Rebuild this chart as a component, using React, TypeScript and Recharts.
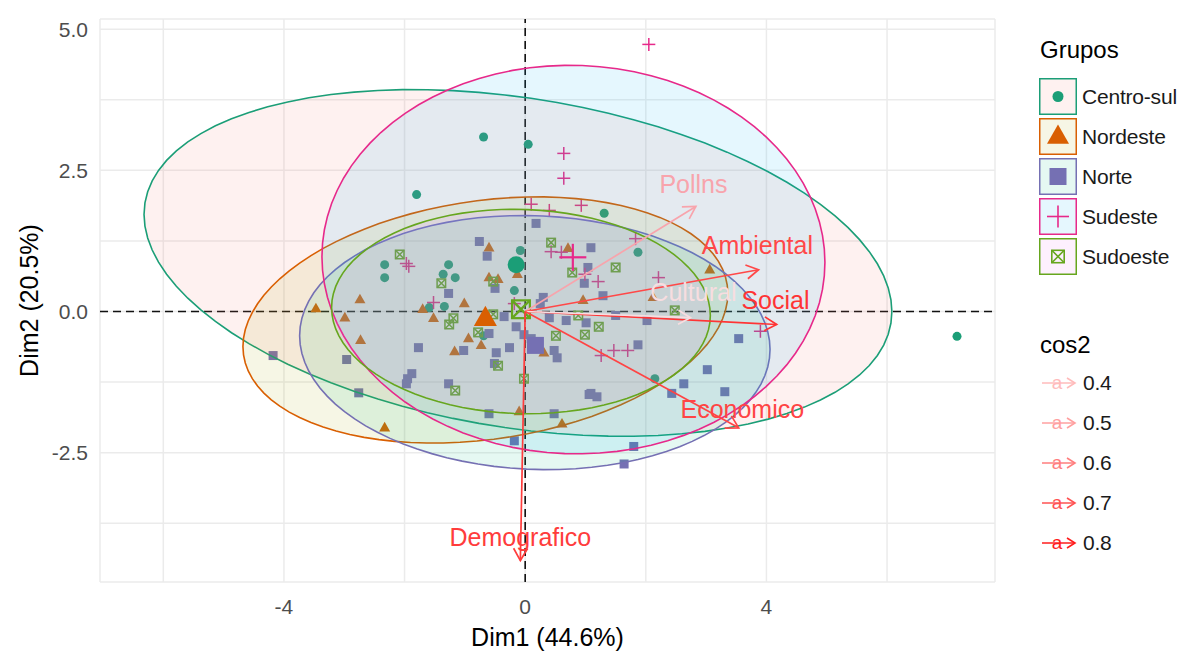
import React from 'react';
import { ScatterChart, Scatter, XAxis, YAxis, CartesianGrid, ReferenceLine, Legend } from 'recharts';

const FONT = '"Liberation Sans", Arial, Helvetica, sans-serif';

// ---------- groups ----------
const groupNames = ['Centro-sul', 'Nordeste', 'Norte', 'Sudeste', 'Sudoeste'];
const groupColors = ['#1B9E77', '#D95F02', '#7570B3', '#E7298A', '#66A61E'];
const ellipseFills = ['#F8766D', '#A3A500', '#00BF7D', '#00B0F6', '#E76BF3'];
const groupShapes = ['circle', 'triangle', 'square', 'plus', 'squarex'];

// ---------- individuals (Dim1, Dim2) ----------
const centroSulX = [-1.80, -2.33, -2.33, -1.27, -1.36, -1.16, -1.59, -1.34, -0.08, -0.18, -0.69, 1.31, 1.87, 2.15, -0.69, 0.05, 7.16];
const centroSulY = [2.07, 0.83, 0.60, 0.83, 0.66, 0.60, 0.07, 0.09, 1.08, 0.37, -0.43, 1.74, 1.05, -1.19, 3.09, 2.96, -0.44];

const nordesteX = [-0.60, -0.60, -0.45, -2.74, -3.47, -2.99, -1.70, -1.52, -1.01, -0.13, -0.94, -1.17, -0.73, -2.73, -0.10, -2.33, 0.71, 0.96, 2.12, 3.06, 0.31, 0.61];
const nordesteY = [1.13, 0.60, 0.57, 0.21, 0.05, -0.11, 0.04, -0.12, 0.14, 0.66, -0.48, -0.71, -0.60, -0.51, -1.77, -2.06, 1.12, 0.20, 0.25, 0.74, -0.73, -1.99];

const norteX = [-0.76, -0.63, 0.18, 1.09, 1.04, 0.98, 1.29, 0.30, 0.25, -0.50, -1.27, -0.35, -0.15, -0.02, 0.40, 0.68, 1.01, 0.48, 0.53, -0.60, -1.02, -0.26, -0.48, -0.51, -1.77, -2.96, -1.95, -1.88, -1.27, -2.76, -0.60, 0.48, 1.09, 1.87, 2.02, 1.50, 3.54, 3.02, 2.63, 3.31, 2.43, 1.80, 1.64, -0.18, -4.18, 0.10, -1.97, 1.19, 1.06];
const norteY = [1.24, 0.98, 1.56, 1.13, 0.78, 0.50, 0.28, 0.25, 0.14, 0.41, 0.32, -0.09, -0.27, -0.41, -0.11, -0.16, -0.20, -0.69, -0.82, -0.39, -0.69, -0.64, -0.73, -0.92, -0.64, -0.85, -1.19, -1.10, -1.28, -1.44, -1.81, -1.81, -1.45, -0.59, -0.16, -0.07, -0.48, -1.03, -1.28, -1.42, -1.45, -2.39, -2.70, -2.29, -0.78, -0.48, -1.28, -1.51, -1.47];

const sudesteX = [2.05, 0.64, 0.64, 0.10, 0.40, 0.93, 0.43, 0.60, 0.99, 1.21, 1.83, 2.21, -1.93, -1.97, -1.52, -0.18, 1.26, 1.47, 1.70, 3.90];
const sudesteY = [4.73, 2.80, 2.36, 1.90, 1.79, 1.88, 1.06, 1.05, 0.66, 0.53, 1.29, 0.60, 0.80, 0.85, 0.16, 0.14, -0.78, -0.69, -0.69, -0.35];

const sudoesteX = [-2.08, -1.39, -0.53, -0.53, -1.19, -1.26, -0.78, -0.45, -1.16, -0.02, 0.43, 0.78, 1.50, 0.88, 0.51, 0.99, 1.22, 2.48];
const sudoesteY = [1.01, 0.50, 0.53, -0.05, -0.12, -0.23, -0.37, -0.96, -1.40, -1.19, 1.22, 0.69, 0.78, -0.07, -0.43, -0.41, -0.27, 0.02];

const groupX = [centroSulX, nordesteX, norteX, sudesteX, sudoesteX];
const groupY = [centroSulY, nordesteY, norteY, sudesteY, sudoesteY];

// group means
const groupMeanX = [-0.15, -0.66, 0.17, 0.79, -0.07];
const groupMeanY = [0.83, -0.12, -0.60, 0.96, 0.04];

// confidence ellipses (centre, horizontal half-width, vertical half-height, y-offset at rightmost point)
const ellipseCenterX = [-0.12, -0.66, 0.16, 0.80, -0.07];
const ellipseCenterY = [0.86, -0.15, -0.55, 0.92, 0.00];
const ellipseHalfWidth = [6.20, 4.02, 3.90, 4.17, 3.14];
const ellipseHalfHeight = [3.07, 2.18, 2.25, 3.44, 1.81];
const ellipseTilt = [-0.86, 0.47, -0.12, -0.05, -0.07];

// ---------- variables ----------
const varNames = ['Pollns', 'Ambiental', 'Social', 'Cultural', 'Economico', 'Demografico'];
const varEndX = [2.83, 3.87, 4.17, 2.74, 3.54, -0.08];
const varEndY = [1.86, 0.74, -0.23, -0.11, -2.06, -4.41];
const varLabelX = [2.79, 3.85, 4.15, 2.79, 3.60, -0.08];
const varLabelY = [2.25, 1.17, 0.21, 0.34, -1.72, -3.99];
const varColors = ['#F8A4AC', '#FF4848', '#FF3434', '#F7DDE0', '#FF4444', '#FF3C3C'];

// cos2 legend
const cos2Levels = ['0.4', '0.5', '0.6', '0.7', '0.8'];
const cos2Colors = ['#FFBBBB', '#FFA0A0', '#FF7E7E', '#FF5252', '#FF1C1C'];

// ticks
const xTicks = [-6, -4, -2, 0, 2, 4, 6];
const xTickLabels = [-4, 0, 4];
const yTicks = [-3.75, -2.5, -1.25, 0, 1.25, 2.5, 3.75, 5];
const yTickLabels = [-2.5, 0, 2.5, 5];

// ---------- derived tables ----------
const pointData = groupX.map((xs, g) => xs.map((x, i) => ({ x, y: groupY[g][i] })));
const meanData = groupMeanX.map((x, g) => [{ x, y: groupMeanY[g] }]);
const ellipseData = ellipseCenterX.map((cx, g) => {
  const cy = ellipseCenterY[g];
  const w = ellipseHalfWidth[g];
  const b = ellipseTilt[g];
  const c = Math.sqrt(ellipseHalfHeight[g] ** 2 - b * b);
  const pts: { x: number; y: number }[] = [];
  for (let k = 0; k < 90; k++) {
    const t = (2 * Math.PI * k) / 90;
    pts.push({ x: cx + w * Math.cos(t), y: cy + b * Math.cos(t) + c * Math.sin(t) });
  }
  return pts;
});
const arrowData = varNames.map((_, i) => [{ x: 0, y: 0 }, { x: varEndX[i], y: varEndY[i] }]);
const labelData = varNames.map((name, i) => ({ x: varLabelX[i], y: varLabelY[i], label: name, color: varColors[i] }));

// ---------- marker drawing ----------
function drawMarker(kind: string, cx: number, cy: number, size: number, color: string, sw = 1.5) {
  const h = size / 2;
  switch (kind) {
    case 'circle':
      return <circle cx={cx} cy={cy} r={h} fill={color} />;
    case 'triangle': {
      const th = size * 0.88;
      return <polygon points={`${cx},${cy - th * 0.62} ${cx + h},${cy + th * 0.38} ${cx - h},${cy + th * 0.38}`} fill={color} />;
    }
    case 'square':
      return <rect x={cx - h} y={cy - h} width={size} height={size} fill={color} />;
    case 'plus':
      return (
        <g stroke={color} strokeWidth={sw}>
          <line x1={cx - h} y1={cy} x2={cx + h} y2={cy} />
          <line x1={cx} y1={cy - h} x2={cx} y2={cy + h} />
        </g>
      );
    default: {
      const q = h - sw / 2;
      return (
        <g stroke={color} strokeWidth={sw} fill="none">
          <rect x={cx - q} y={cy - q} width={2 * q} height={2 * q} />
          <line x1={cx - q} y1={cy - q} x2={cx + q} y2={cy + q} />
          <line x1={cx - q} y1={cy + q} x2={cx + q} y2={cy - q} />
        </g>
      );
    }
  }
}

const pointSizes = [9, 11, 9, 13, 10];
const meanSizes = [17, 23, 17, 27, 20];

const markerShape = (kind: string, color: string, size: number, sw: number) => (p: any) => {
  if (p == null || p.cx == null || p.cy == null || isNaN(p.cx) || isNaN(p.cy)) return <g />;
  return drawMarker(kind, p.cx, p.cy, size, color, sw);
};

const emptyShape = () => <g />;

const ellipseLine = (stroke: string, fill: string) => (props: any) => {
  const pts = (props && props.points) || [];
  if (!pts.length) return <g />;
  const d = pts.map((p: any, i: number) => `${i ? 'L' : 'M'}${p.x},${p.y}`).join(' ') + ' Z';
  return <path d={d} fill={fill} fillOpacity={0.1} stroke={stroke} strokeWidth={1.6} />;
};

const arrowLine = (color: string) => (props: any) => {
  const pts = (props && props.points) || [];
  if (pts.length < 2) return <g />;
  const p0 = pts[0];
  const p1 = pts[1];
  const ang = Math.atan2(p1.y - p0.y, p1.x - p0.x);
  const L = 14;
  const a = Math.PI / 6;
  const h1x = p1.x - L * Math.cos(ang - a);
  const h1y = p1.y - L * Math.sin(ang - a);
  const h2x = p1.x - L * Math.cos(ang + a);
  const h2y = p1.y - L * Math.sin(ang + a);
  return (
    <g stroke={color} strokeWidth={1.7} fill="none">
      <line x1={p0.x} y1={p0.y} x2={p1.x} y2={p1.y} />
      <polyline points={`${h1x},${h1y} ${p1.x},${p1.y} ${h2x},${h2y}`} />
    </g>
  );
};

const labelShape = (p: any) => {
  if (p == null || p.cx == null) return <g />;
  const pl = p.payload || {};
  return (
    <text x={p.cx} y={p.cy} textAnchor="middle" dominantBaseline="central" fill={pl.color} fontSize={25} fontFamily={FONT}>
      {pl.label}
    </text>
  );
};

const XTitle = (props: any) => {
  const vb = props.viewBox || { x: 92, y: 574, width: 895, height: 66 };
  return (
    <text x={vb.x + vb.width / 2} y={vb.y + 55} textAnchor="middle" dominantBaseline="central" fontSize={25} fontFamily={FONT} fill="#000">
      Dim1 (44.6%)
    </text>
  );
};

const YTitle = (props: any) => {
  const vb = props.viewBox || { x: 12, y: 11, width: 80, height: 563 };
  const cx = vb.x + 9;
  const cy = vb.y + vb.height / 2;
  return (
    <text x={cx} y={cy} transform={`rotate(-90, ${cx}, ${cy})`} textAnchor="middle" dominantBaseline="central" fontSize={25} fontFamily={FONT} fill="#000">
      Dim2 (20.5%)
    </text>
  );
};

const fmtX = (v: number) => (xTickLabels.includes(v) ? String(v) : '');
const fmtY = (v: number) => (yTickLabels.includes(v) ? v.toFixed(1) : '');

const legendKeySvg = (g: number) => (
  <svg width={38} height={37} style={{ display: 'block' }}>
    <rect x={0.75} y={0.75} width={36.5} height={35.5} fill={ellipseFills[g]} fillOpacity={0.1} stroke={groupColors[g]} strokeWidth={1.5} />
    {drawMarker(groupShapes[g], 19, 18.5, [11, 22, 17, 22, 14][g], groupColors[g], 1.6)}
  </svg>
);

const cos2KeySvg = (i: number) => (
  <svg width={42} height={30} style={{ display: 'block' }}>
    <g stroke={cos2Colors[i]} strokeWidth={1.6} fill="none">
      <line x1={4} y1={15} x2={37} y2={15} />
      <polyline points="29,10 37,15 29,20" />
    </g>
    <text x={19} y={21} textAnchor="middle" fontSize={19} fontFamily={FONT} fill={cos2Colors[i]}>a</text>
  </svg>
);

const labelStyle: React.CSSProperties = {
  position: 'absolute',
  fontSize: 21,
  letterSpacing: '-0.2px',
  lineHeight: '30px',
  color: '#1A1A1A',
  whiteSpace: 'nowrap',
};

const LegendPanel = () => (
  <div style={{ position: 'relative', width: 1171, height: 645, fontFamily: FONT, pointerEvents: 'none' }}>
    <div style={{ position: 'absolute', left: 1032, top: 27, fontSize: 24, lineHeight: '30px', color: '#000', whiteSpace: 'nowrap' }}>Grupos</div>
    {groupNames.map((name, g) => (
      <React.Fragment key={name}>
        <div style={{ position: 'absolute', left: 1031, top: 70 + 40 * g }}>{legendKeySvg(g)}</div>
        <div style={{ ...labelStyle, left: 1074, top: 74 + 40 * g }}>{name}</div>
      </React.Fragment>
    ))}
    <div style={{ position: 'absolute', left: 1032, top: 322, fontSize: 24, lineHeight: '30px', color: '#000', whiteSpace: 'nowrap' }}>cos2</div>
    {cos2Levels.map((lv, i) => (
      <React.Fragment key={lv}>
        <div style={{ position: 'absolute', left: 1030, top: 360 + 40 * i }}>{cos2KeySvg(i)}</div>
        <div style={{ ...labelStyle, left: 1075, top: 360 + 40 * i }}>{lv}</div>
      </React.Fragment>
    ))}
  </div>
);

export default function App() {
  return (
    <div style={{ width: 1171, height: 645, background: '#fff' }}>
      <ScatterChart width={1179} height={645} margin={{ top: 11, right: 192, bottom: 5, left: 12 }}>
        <CartesianGrid stroke="#EBEBEB" strokeWidth={1.5} />
        <XAxis
          type="number"
          dataKey="x"
          domain={[-7.05, 7.79]}
          allowDataOverflow
          ticks={xTicks}
          interval={0}
          tickFormatter={fmtX}
          axisLine={false}
          tickLine={false}
          tickSize={0}
          tickMargin={17}
          height={66}
          tick={{ fill: '#4D4D4D', fontSize: 21, fontFamily: FONT }}
          label={{ content: XTitle }}
        />
        <YAxis
          type="number"
          dataKey="y"
          domain={[-4.79, 5.18]}
          allowDataOverflow
          ticks={yTicks}
          interval={0}
          tickFormatter={fmtY}
          axisLine={false}
          tickLine={false}
          tickSize={0}
          tickMargin={12}
          width={80}
          tick={{ fill: '#4D4D4D', fontSize: 21, fontFamily: FONT }}
          label={{ content: YTitle }}
        />
        <Legend
          layout="horizontal"
          align="center"
          verticalAlign="middle"
          content={LegendPanel}
          wrapperStyle={{ left: 0, top: 0, width: 1171, height: 645, pointerEvents: 'none' }}
        />
        {pointData.map((d, g) => (
          <Scatter
            key={`pts-${g}`}
            name={groupNames[g]}
            data={d}
            isAnimationActive={false}
            legendType="none"
            shape={markerShape(groupShapes[g], groupColors[g], pointSizes[g], 1.5)}
          />
        ))}
        {ellipseData.map((d, g) => (
          <Scatter
            key={`ell-${g}`}
            data={d}
            isAnimationActive={false}
            legendType="none"
            shape={emptyShape}
            line={ellipseLine(groupColors[g], ellipseFills[g])}
            lineType="joint"
          />
        ))}
        {meanData.map((d, g) => (
          <Scatter
            key={`mean-${g}`}
            data={d}
            isAnimationActive={false}
            legendType="none"
            shape={markerShape(groupShapes[g], groupColors[g], meanSizes[g], 2.2)}
          />
        ))}
        <ReferenceLine x={0} stroke="#111" strokeWidth={1.6} strokeDasharray="8 5" />
        <ReferenceLine y={0} stroke="#111" strokeWidth={1.6} strokeDasharray="8 5" />
        {arrowData.map((d, i) => (
          <Scatter
            key={`arr-${i}`}
            data={d}
            isAnimationActive={false}
            legendType="none"
            shape={emptyShape}
            line={arrowLine(varColors[i])}
            lineType="joint"
          />
        ))}
        <Scatter data={labelData} isAnimationActive={false} legendType="none" shape={labelShape} />
      </ScatterChart>
    </div>
  );
}
